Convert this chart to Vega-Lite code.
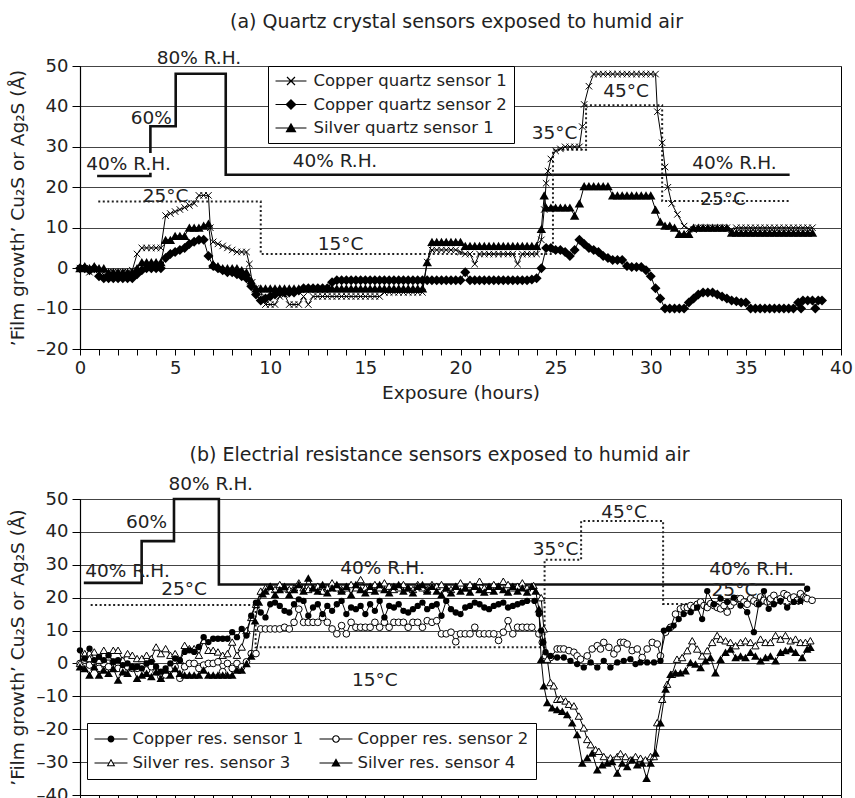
{
"$schema": "https://vega.github.io/schema/vega-lite/v6.json",
"padding": {"left": 7, "top": 12, "right": 0, "bottom": 0},
"background": "white",
"spacing": 43,
"config": {
  "font": "DejaVu Sans",
  "view": {"stroke": "black", "strokeWidth": 1},
  "axis": {"domainColor": "black", "domainWidth": 1.2, "tickColor": "black", "tickWidth": 1, "labelColor": "#222", "labelFontSize": 18, "titleColor": "#222", "titleFontSize": 18.5, "titleFontWeight": "normal", "gridColor": "#444", "gridWidth": 1},
  "title": {"fontSize": 19, "fontWeight": "normal", "color": "#222"}
},
"datasets": {
  "rhA": [{"h":0.9,"v":22.8,"g":1},{"h":3.7,"v":22.8,"g":1},{"h":3.7,"v":23.6,"g":1},{"h":3.7,"v":28.5,"g":2},{"h":3.7,"v":35.1,"g":2},{"h":5.03,"v":35.1,"g":2},{"h":5.03,"v":48.1,"g":2},{"h":7.66,"v":48.1,"g":2},{"h":7.66,"v":23.1,"g":2},{"h":37.3,"v":23.1,"g":2}],
  "tA": [{"h":0.96,"v":16.5},{"h":9.5,"v":16.5},{"h":9.5,"v":3.5},{"h":24.86,"v":3.5},{"h":24.86,"v":29.3},{"h":26.6,"v":29.3},{"h":26.6,"v":40.3},{"h":30.6,"v":40.3},{"h":30.6,"v":16.6},{"h":37.25,"v":16.6}],
  "txtA": [{"h":6.25,"v":50.5,"t":"80% R.H."},{"h":3.75,"v":35.7,"t":"60%"},{"h":2.55,"v":24.2,"t":"40% R.H."},{"h":13.4,"v":25,"t":"40% R.H."},{"h":34.4,"v":24.6,"t":"40% R.H."},{"h":4.5,"v":16.3,"t":"25°C"},{"h":13.7,"v":4.4,"t":"15°C"},{"h":24.95,"v":32,"t":"35°C"},{"h":28.7,"v":42.3,"t":"45°C"},{"h":33.8,"v":15.5,"t":"25°C"}],
  "legA": [{"k":"Copper quartz sensor 1"},{"k":"Copper quartz sensor 2"},{"k":"Silver quartz sensor 1"}],
  "q1": [{"h":0,"v":0},{"h":0.25,"v":0},{"h":0.5,"v":-1},{"h":0.75,"v":-0.5},{"h":1,"v":-1},{"h":1.25,"v":-1},{"h":1.5,"v":-1},{"h":1.75,"v":-1},{"h":2,"v":-1},{"h":2.25,"v":-1},{"h":2.5,"v":-1},{"h":2.75,"v":-0.5},{"h":3,"v":3.5},{"h":3.25,"v":5},{"h":3.5,"v":5},{"h":3.75,"v":5},{"h":4,"v":5},{"h":4.25,"v":5},{"h":4.5,"v":13},{"h":4.75,"v":13.5},{"h":5,"v":14},{"h":5.25,"v":14.5},{"h":5.5,"v":15},{"h":5.75,"v":15.5},{"h":6,"v":16},{"h":6.25,"v":18},{"h":6.5,"v":18},{"h":6.75,"v":18},{"h":6.85,"v":10},{"h":7,"v":6.5},{"h":7.25,"v":6},{"h":7.5,"v":5.5},{"h":7.75,"v":5},{"h":8,"v":4.5},{"h":8.25,"v":4},{"h":8.5,"v":4},{"h":8.75,"v":4},{"h":8.9,"v":1},{"h":9.05,"v":-3.5},{"h":9.25,"v":-5},{"h":9.5,"v":-6},{"h":9.75,"v":-9},{"h":10,"v":-9},{"h":10.25,"v":-9},{"h":10.5,"v":-7},{"h":10.75,"v":-6.5},{"h":11,"v":-9},{"h":11.25,"v":-9},{"h":11.5,"v":-9},{"h":11.75,"v":-7},{"h":12,"v":-9},{"h":12.25,"v":-7},{"h":12.5,"v":-7},{"h":12.75,"v":-7},{"h":13,"v":-7},{"h":13.25,"v":-7},{"h":13.5,"v":-7},{"h":13.75,"v":-7},{"h":14,"v":-7},{"h":14.25,"v":-7},{"h":14.5,"v":-7},{"h":14.75,"v":-7},{"h":15,"v":-7},{"h":15.25,"v":-7},{"h":15.5,"v":-7},{"h":15.75,"v":-7},{"h":16,"v":-6},{"h":16.25,"v":-6},{"h":16.5,"v":-6},{"h":16.75,"v":-6},{"h":17,"v":-6},{"h":17.25,"v":-6},{"h":17.5,"v":-6},{"h":17.75,"v":-6},{"h":18,"v":-6},{"h":18.25,"v":1.5},{"h":18.5,"v":4.5},{"h":18.75,"v":4.5},{"h":19,"v":4.5},{"h":19.25,"v":4.5},{"h":19.5,"v":4.5},{"h":19.75,"v":4.5},{"h":20,"v":4},{"h":20.25,"v":3.5},{"h":20.5,"v":3.5},{"h":20.75,"v":1},{"h":21,"v":3.5},{"h":21.25,"v":3.5},{"h":21.5,"v":3.5},{"h":21.75,"v":3.5},{"h":22,"v":3.5},{"h":22.25,"v":3.5},{"h":22.5,"v":3.5},{"h":22.75,"v":3.5},{"h":23,"v":1},{"h":23.25,"v":3.5},{"h":23.5,"v":3.5},{"h":23.75,"v":3.5},{"h":24,"v":3.5},{"h":24.25,"v":7},{"h":24.4,"v":14.5},{"h":24.5,"v":21},{"h":24.6,"v":24},{"h":24.75,"v":27},{"h":25,"v":29},{"h":25.25,"v":29.5},{"h":25.5,"v":30},{"h":25.75,"v":30},{"h":26,"v":30},{"h":26.25,"v":30},{"h":26.4,"v":35},{"h":26.5,"v":40.5},{"h":26.75,"v":45},{"h":27,"v":48},{"h":27.25,"v":48},{"h":27.5,"v":48},{"h":27.75,"v":48},{"h":28,"v":48},{"h":28.25,"v":48},{"h":28.5,"v":48},{"h":28.75,"v":48},{"h":29,"v":48},{"h":29.25,"v":48},{"h":29.5,"v":48},{"h":29.75,"v":48},{"h":30,"v":48},{"h":30.25,"v":48},{"h":30.35,"v":38.7},{"h":30.6,"v":31},{"h":30.75,"v":25},{"h":30.9,"v":20},{"h":31.1,"v":16},{"h":31.4,"v":13.3},{"h":31.75,"v":10.4},{"h":32,"v":9.6},{"h":32.25,"v":9.5},{"h":32.5,"v":10},{"h":32.75,"v":10},{"h":33,"v":10},{"h":33.25,"v":10},{"h":33.5,"v":10},{"h":33.75,"v":10},{"h":34,"v":10},{"h":34.25,"v":9.5},{"h":34.5,"v":10},{"h":34.75,"v":10},{"h":35,"v":10},{"h":35.25,"v":10},{"h":35.5,"v":10},{"h":35.75,"v":10},{"h":36,"v":10},{"h":36.25,"v":10},{"h":36.5,"v":10},{"h":36.75,"v":10},{"h":37,"v":10},{"h":37.25,"v":10},{"h":37.5,"v":10},{"h":37.75,"v":10},{"h":38,"v":10},{"h":38.25,"v":10},{"h":38.5,"v":10}],
  "q2": [{"h":0,"v":0},{"h":0.25,"v":0},{"h":0.5,"v":-0.5},{"h":0.75,"v":0},{"h":1,"v":-2},{"h":1.25,"v":-2.5},{"h":1.5,"v":-2.5},{"h":1.75,"v":-2.5},{"h":2,"v":-2.5},{"h":2.25,"v":-2.5},{"h":2.5,"v":-2.5},{"h":2.75,"v":-2.5},{"h":3,"v":-1.5},{"h":3.25,"v":-0.5},{"h":3.5,"v":0},{"h":3.75,"v":0},{"h":4,"v":0},{"h":4.25,"v":0},{"h":4.5,"v":2.5},{"h":4.75,"v":3.5},{"h":5,"v":4},{"h":5.25,"v":4.5},{"h":5.5,"v":5},{"h":5.75,"v":6},{"h":6,"v":6.5},{"h":6.25,"v":7},{"h":6.5,"v":7},{"h":6.75,"v":3},{"h":7,"v":0.5},{"h":7.25,"v":0},{"h":7.5,"v":-0.5},{"h":7.75,"v":-1},{"h":8,"v":-1},{"h":8.25,"v":-1.5},{"h":8.5,"v":-2},{"h":8.75,"v":-2.5},{"h":9,"v":-4.5},{"h":9.25,"v":-6.5},{"h":9.5,"v":-8},{"h":9.75,"v":-7.5},{"h":10,"v":-7},{"h":10.25,"v":-6.5},{"h":10.5,"v":-6},{"h":10.75,"v":-6},{"h":11,"v":-6},{"h":11.25,"v":-6},{"h":11.5,"v":-5.5},{"h":11.75,"v":-5},{"h":12,"v":-5},{"h":12.25,"v":-5},{"h":12.5,"v":-5},{"h":12.75,"v":-5},{"h":13,"v":-5},{"h":13.25,"v":-3.5},{"h":13.5,"v":-3},{"h":13.75,"v":-3},{"h":14,"v":-3},{"h":14.25,"v":-3},{"h":14.5,"v":-3},{"h":14.75,"v":-3},{"h":15,"v":-3},{"h":15.25,"v":-3},{"h":15.5,"v":-3},{"h":15.75,"v":-3},{"h":16,"v":-3},{"h":16.25,"v":-3},{"h":16.5,"v":-3},{"h":16.75,"v":-3},{"h":17,"v":-3},{"h":17.25,"v":-3},{"h":17.5,"v":-3},{"h":17.75,"v":-3},{"h":18,"v":-3},{"h":18.25,"v":-3},{"h":18.5,"v":-3},{"h":18.75,"v":-3},{"h":19,"v":-3},{"h":19.25,"v":-3},{"h":19.5,"v":-3},{"h":19.75,"v":-3},{"h":20,"v":-3},{"h":20.25,"v":-1},{"h":20.5,"v":-3},{"h":20.75,"v":-3},{"h":21,"v":-3},{"h":21.25,"v":-3},{"h":21.5,"v":-3},{"h":21.75,"v":-3},{"h":22,"v":-3},{"h":22.25,"v":-3},{"h":22.5,"v":-3},{"h":22.75,"v":-3},{"h":23,"v":-3},{"h":23.25,"v":-3},{"h":23.5,"v":-3},{"h":23.75,"v":-2.8},{"h":24,"v":-2.5},{"h":24.25,"v":0},{"h":24.5,"v":5},{"h":24.75,"v":5},{"h":25,"v":4.5},{"h":25.25,"v":4.5},{"h":25.5,"v":4},{"h":25.75,"v":3},{"h":26,"v":4.5},{"h":26.25,"v":7},{"h":26.5,"v":6},{"h":26.75,"v":5},{"h":27,"v":4.5},{"h":27.25,"v":4},{"h":27.5,"v":3},{"h":27.75,"v":2.5},{"h":28,"v":2},{"h":28.25,"v":2},{"h":28.5,"v":2},{"h":28.75,"v":0.5},{"h":29,"v":0.3},{"h":29.25,"v":0.3},{"h":29.5,"v":0.3},{"h":29.75,"v":-0.5},{"h":30,"v":-2},{"h":30.25,"v":-5},{"h":30.5,"v":-7.5},{"h":30.75,"v":-10},{"h":31,"v":-10},{"h":31.25,"v":-10},{"h":31.5,"v":-10},{"h":31.75,"v":-10},{"h":32,"v":-8.5},{"h":32.25,"v":-7.5},{"h":32.5,"v":-6.5},{"h":32.75,"v":-6},{"h":33,"v":-6},{"h":33.25,"v":-6},{"h":33.5,"v":-6.5},{"h":33.75,"v":-7},{"h":34,"v":-7.5},{"h":34.25,"v":-8},{"h":34.5,"v":-8.2},{"h":34.75,"v":-8.5},{"h":35,"v":-8.5},{"h":35.25,"v":-10},{"h":35.5,"v":-10},{"h":35.75,"v":-10},{"h":36,"v":-10},{"h":36.25,"v":-10},{"h":36.5,"v":-10},{"h":36.75,"v":-10},{"h":37,"v":-10},{"h":37.25,"v":-10},{"h":37.5,"v":-10},{"h":37.75,"v":-8.5},{"h":37.9,"v":-10},{"h":38,"v":-8},{"h":38.25,"v":-8},{"h":38.5,"v":-8},{"h":38.65,"v":-10},{"h":38.8,"v":-8},{"h":39,"v":-8}],
  "q3": [{"h":0,"v":0},{"h":0.25,"v":0.5},{"h":0.5,"v":0},{"h":0.75,"v":0.5},{"h":1,"v":0},{"h":1.25,"v":0},{"h":1.5,"v":-1},{"h":1.75,"v":-1},{"h":2,"v":-1},{"h":2.25,"v":-1},{"h":2.5,"v":-1},{"h":2.75,"v":-1},{"h":3,"v":0},{"h":3.25,"v":1.5},{"h":3.5,"v":1.5},{"h":3.75,"v":1.5},{"h":4,"v":1.5},{"h":4.25,"v":1.5},{"h":4.5,"v":7},{"h":4.75,"v":7},{"h":5,"v":8},{"h":5.25,"v":8},{"h":5.5,"v":8},{"h":5.75,"v":10},{"h":6,"v":10},{"h":6.25,"v":10},{"h":6.5,"v":10.5},{"h":6.75,"v":11},{"h":7,"v":1},{"h":7.25,"v":0.5},{"h":7.5,"v":0},{"h":7.75,"v":0},{"h":8,"v":0},{"h":8.25,"v":0},{"h":8.5,"v":-0.5},{"h":8.75,"v":-1},{"h":9,"v":-3},{"h":9.25,"v":-5},{"h":9.5,"v":-5},{"h":9.75,"v":-5},{"h":10,"v":-5},{"h":10.25,"v":-5},{"h":10.5,"v":-5},{"h":10.75,"v":-5},{"h":11,"v":-5},{"h":11.25,"v":-5},{"h":11.5,"v":-5},{"h":11.75,"v":-5},{"h":12,"v":-5},{"h":12.25,"v":-5},{"h":12.5,"v":-5},{"h":12.75,"v":-5},{"h":13,"v":-5},{"h":13.25,"v":-5},{"h":13.5,"v":-5},{"h":13.75,"v":-5},{"h":14,"v":-5},{"h":14.25,"v":-5},{"h":14.5,"v":-5},{"h":14.75,"v":-5},{"h":15,"v":-5},{"h":15.25,"v":-5},{"h":15.5,"v":-5},{"h":15.75,"v":-5},{"h":16,"v":-5},{"h":16.25,"v":-5},{"h":16.5,"v":-5},{"h":16.75,"v":-5},{"h":17,"v":-5},{"h":17.25,"v":-5},{"h":17.5,"v":-5},{"h":17.75,"v":-5},{"h":18,"v":-5},{"h":18.25,"v":1.5},{"h":18.5,"v":6.5},{"h":18.75,"v":6.5},{"h":19,"v":6.5},{"h":19.25,"v":6.5},{"h":19.5,"v":6.5},{"h":19.75,"v":6.5},{"h":20,"v":6.5},{"h":20.25,"v":5.5},{"h":20.5,"v":5.5},{"h":20.75,"v":5.5},{"h":21,"v":5.5},{"h":21.25,"v":5.5},{"h":21.5,"v":5.5},{"h":21.75,"v":5.5},{"h":22,"v":5.5},{"h":22.25,"v":5.5},{"h":22.5,"v":5.5},{"h":22.75,"v":5.5},{"h":23,"v":5.5},{"h":23.25,"v":5.5},{"h":23.5,"v":5.5},{"h":23.75,"v":5.5},{"h":24,"v":5.5},{"h":24.25,"v":9.7},{"h":24.4,"v":18},{"h":24.5,"v":15},{"h":24.75,"v":15},{"h":25,"v":15},{"h":25.25,"v":15},{"h":25.5,"v":15},{"h":25.75,"v":15},{"h":26,"v":13},{"h":26.25,"v":16},{"h":26.5,"v":20.3},{"h":26.75,"v":20.3},{"h":27,"v":20.3},{"h":27.25,"v":20.3},{"h":27.5,"v":20.3},{"h":27.75,"v":20.3},{"h":28,"v":18},{"h":28.25,"v":18},{"h":28.5,"v":18},{"h":28.75,"v":18},{"h":29,"v":18},{"h":29.25,"v":18},{"h":29.5,"v":18},{"h":29.75,"v":18},{"h":30,"v":18},{"h":30.25,"v":14.5},{"h":30.5,"v":11.5},{"h":30.75,"v":10.5},{"h":31,"v":10.5},{"h":31.25,"v":10},{"h":31.5,"v":8.5},{"h":31.75,"v":8.5},{"h":32,"v":8.5},{"h":32.25,"v":10},{"h":32.5,"v":10},{"h":32.75,"v":10},{"h":33,"v":10},{"h":33.25,"v":10},{"h":33.5,"v":10},{"h":33.75,"v":10},{"h":34,"v":10},{"h":34.25,"v":8.8},{"h":34.5,"v":8.8},{"h":34.75,"v":8.8},{"h":35,"v":8.8},{"h":35.25,"v":8.8},{"h":35.5,"v":8.8},{"h":35.75,"v":8.8},{"h":36,"v":8.8},{"h":36.25,"v":8.8},{"h":36.5,"v":8.8},{"h":36.75,"v":8.8},{"h":37,"v":8.8},{"h":37.25,"v":8.8},{"h":37.5,"v":8.8},{"h":37.75,"v":8.8},{"h":38,"v":8.8},{"h":38.25,"v":8.8},{"h":38.5,"v":8.8}],
  "rhB": [{"h":0.2,"v":24.5},{"h":3.24,"v":24.5},{"h":3.24,"v":37.2},{"h":4.94,"v":37.2},{"h":4.94,"v":50},{"h":7.3,"v":50},{"h":7.3,"v":24},{"h":38.1,"v":24}],
  "tB": [{"h":0.56,"v":17.8},{"h":9.23,"v":17.8},{"h":9.23,"v":4.9},{"h":24.42,"v":4.9},{"h":24.42,"v":31.5},{"h":26.34,"v":31.5},{"h":26.34,"v":43.3},{"h":30.65,"v":43.3},{"h":30.65,"v":18.1},{"h":38,"v":18.1}],
  "txtB": [{"h":6.87,"v":52.8,"t":"80% R.H."},{"h":3.5,"v":41.3,"t":"60%"},{"h":2.5,"v":26.3,"t":"40% R.H."},{"h":15.9,"v":27.3,"t":"40% R.H."},{"h":35.3,"v":26.8,"t":"40% R.H."},{"h":5.47,"v":20.9,"t":"25°C"},{"h":15.5,"v":-6.8,"t":"15°C"},{"h":25,"v":33.1,"t":"35°C"},{"h":28.6,"v":44.3,"t":"45°C"},{"h":34.4,"v":20.5,"t":"25°C"}],
  "legB": [{"k":"Copper res. sensor 1"},{"k":"Copper res. sensor 2"},{"k":"Silver res. sensor 3"},{"k":"Silver res. sensor 4"}],
  "r1": [{"h":0,"v":4},{"h":0.25,"v":1.5},{"h":0.5,"v":4.5},{"h":0.75,"v":1},{"h":1,"v":2},{"h":1.25,"v":1},{"h":1.5,"v":2.5},{"h":1.75,"v":0.5},{"h":2,"v":1},{"h":2.25,"v":-0.5},{"h":2.5,"v":0},{"h":2.75,"v":-1},{"h":3,"v":-1},{"h":3.25,"v":-1.5},{"h":3.5,"v":0},{"h":3.75,"v":0.5},{"h":4,"v":-1},{"h":4.25,"v":-2.5},{"h":4.5,"v":-1.5},{"h":4.75,"v":0},{"h":5,"v":1.5},{"h":5.25,"v":1},{"h":5.5,"v":3.5},{"h":5.75,"v":4},{"h":6,"v":3.5},{"h":6.25,"v":5},{"h":6.5,"v":8},{"h":6.75,"v":6.5},{"h":7,"v":7.5},{"h":7.25,"v":7.5},{"h":7.5,"v":7.5},{"h":7.75,"v":7.5},{"h":8,"v":9.5},{"h":8.25,"v":8},{"h":8.5,"v":10.5},{"h":8.75,"v":8.5},{"h":9,"v":14.5},{"h":9.25,"v":18.5},{"h":9.5,"v":15.5},{"h":9.75,"v":14},{"h":10,"v":18},{"h":10.25,"v":18.5},{"h":10.5,"v":17.5},{"h":10.75,"v":16},{"h":11,"v":15.5},{"h":11.25,"v":18},{"h":11.5,"v":19.5},{"h":11.75,"v":19},{"h":12,"v":14.5},{"h":12.25,"v":17},{"h":12.5,"v":18},{"h":12.75,"v":15},{"h":13,"v":17.5},{"h":13.25,"v":16},{"h":13.5,"v":18},{"h":13.75,"v":19},{"h":14,"v":15},{"h":14.25,"v":17},{"h":14.5,"v":16.5},{"h":14.75,"v":17.5},{"h":15,"v":15},{"h":15.25,"v":18},{"h":15.5,"v":16},{"h":15.75,"v":19},{"h":16,"v":14},{"h":16.25,"v":17.5},{"h":16.5,"v":17},{"h":16.75,"v":18},{"h":17,"v":16},{"h":17.25,"v":15.5},{"h":17.5,"v":16.5},{"h":17.75,"v":17.5},{"h":18,"v":18.5},{"h":18.25,"v":16.5},{"h":18.5,"v":17.5},{"h":18.75,"v":18},{"h":19,"v":14.5},{"h":19.25,"v":19},{"h":19.5,"v":16.5},{"h":19.75,"v":15.5},{"h":20,"v":15},{"h":20.25,"v":17},{"h":20.5,"v":17.5},{"h":20.75,"v":18.5},{"h":21,"v":18},{"h":21.25,"v":17},{"h":21.5,"v":16.5},{"h":21.75,"v":17.5},{"h":22,"v":18},{"h":22.25,"v":18.5},{"h":22.5,"v":17},{"h":22.75,"v":17.5},{"h":23,"v":18},{"h":23.25,"v":18.5},{"h":23.5,"v":19},{"h":23.89,"v":19},{"h":24.12,"v":15},{"h":24.24,"v":10},{"h":24.35,"v":6.4},{"h":24.47,"v":3.4},{"h":24.73,"v":2.3},{"h":25.08,"v":1.8},{"h":25.43,"v":1.8},{"h":25.78,"v":0.8},{"h":26.13,"v":-0.2},{"h":26.48,"v":-1.2},{"h":26.84,"v":0.3},{"h":27.19,"v":-1.2},{"h":27.53,"v":0.8},{"h":27.88,"v":-1.2},{"h":28.24,"v":0.3},{"h":28.58,"v":0.8},{"h":28.93,"v":1.3},{"h":29.2,"v":-0.2},{"h":29.46,"v":0.3},{"h":29.81,"v":0.3},{"h":30.17,"v":0.3},{"h":30.51,"v":0.8},{"h":30.69,"v":10},{"h":30.95,"v":10.5},{"h":31.2,"v":11.5},{"h":31.47,"v":13.5},{"h":31.73,"v":15},{"h":32.1,"v":15.6},{"h":32.44,"v":17},{"h":32.7,"v":13.5},{"h":32.97,"v":22},{"h":33.32,"v":18},{"h":33.67,"v":19.7},{"h":34.02,"v":18.7},{"h":34.37,"v":20},{"h":34.72,"v":17.6},{"h":35.07,"v":15.6},{"h":35.42,"v":9.5},{"h":35.68,"v":18},{"h":35.95,"v":22},{"h":36.2,"v":16.6},{"h":36.47,"v":18},{"h":36.82,"v":19},{"h":37.17,"v":17},{"h":37.52,"v":18.7},{"h":37.87,"v":19},{"h":38.22,"v":22.7}],
  "r2": [{"h":0,"v":0},{"h":0.25,"v":1},{"h":0.5,"v":-0.5},{"h":0.75,"v":0.5},{"h":1,"v":-1.5},{"h":1.25,"v":0},{"h":1.5,"v":-1},{"h":1.75,"v":0.5},{"h":2,"v":-1.5},{"h":2.25,"v":-2},{"h":2.5,"v":-1},{"h":2.75,"v":-1.5},{"h":3,"v":-1.5},{"h":3.25,"v":-1},{"h":3.5,"v":-2},{"h":3.75,"v":-1},{"h":4,"v":-2.5},{"h":4.25,"v":-4},{"h":4.5,"v":-3.5},{"h":4.75,"v":-1.5},{"h":5,"v":-1},{"h":5.25,"v":-4.5},{"h":5.5,"v":-1},{"h":5.75,"v":0},{"h":6,"v":0},{"h":6.25,"v":-1.5},{"h":6.5,"v":-0.5},{"h":6.75,"v":0},{"h":7,"v":0},{"h":7.25,"v":0.5},{"h":7.5,"v":-2.5},{"h":7.75,"v":0},{"h":8,"v":-1.5},{"h":8.25,"v":0},{"h":8.5,"v":-1},{"h":8.75,"v":0.5},{"h":9,"v":3},{"h":9.25,"v":3},{"h":9.5,"v":10.5},{"h":9.75,"v":10.5},{"h":10,"v":10.5},{"h":10.25,"v":10.5},{"h":10.5,"v":10.5},{"h":10.75,"v":11},{"h":11,"v":10.5},{"h":11.25,"v":12.5},{"h":11.5,"v":16.5},{"h":11.75,"v":12.5},{"h":12,"v":12.5},{"h":12.25,"v":12.5},{"h":12.5,"v":12.5},{"h":12.75,"v":14},{"h":13,"v":12.5},{"h":13.25,"v":10.5},{"h":13.5,"v":9},{"h":13.75,"v":11.5},{"h":14,"v":9},{"h":14.25,"v":12.5},{"h":14.5,"v":11},{"h":14.75,"v":11},{"h":15,"v":11},{"h":15.25,"v":11},{"h":15.5,"v":12.5},{"h":15.75,"v":11},{"h":16,"v":12.5},{"h":16.25,"v":11},{"h":16.5,"v":12.5},{"h":16.75,"v":12.5},{"h":17,"v":12.5},{"h":17.25,"v":11},{"h":17.5,"v":12.5},{"h":17.75,"v":12.5},{"h":18,"v":11},{"h":18.25,"v":13},{"h":18.5,"v":12.5},{"h":18.75,"v":13},{"h":19,"v":9},{"h":19.25,"v":9},{"h":19.5,"v":9.5},{"h":19.75,"v":6.6},{"h":20,"v":9},{"h":20.25,"v":9},{"h":20.5,"v":9},{"h":20.75,"v":11},{"h":21,"v":9},{"h":21.25,"v":9},{"h":21.5,"v":9},{"h":21.75,"v":9},{"h":22,"v":7},{"h":22.25,"v":9.5},{"h":22.5,"v":13},{"h":22.75,"v":9},{"h":23,"v":11},{"h":23.25,"v":11},{"h":23.5,"v":11},{"h":23.75,"v":11},{"h":24.12,"v":9},{"h":24.3,"v":6.4},{"h":24.47,"v":2.3},{"h":24.73,"v":1.8},{"h":25.08,"v":4.4},{"h":25.25,"v":4.4},{"h":25.43,"v":4.4},{"h":25.7,"v":3.9},{"h":25.96,"v":3.4},{"h":26.13,"v":2.3},{"h":26.31,"v":1.3},{"h":26.66,"v":2.3},{"h":26.92,"v":4.4},{"h":27.19,"v":5.4},{"h":27.36,"v":4.4},{"h":27.53,"v":6.4},{"h":27.8,"v":4.9},{"h":28.06,"v":2.9},{"h":28.24,"v":4.4},{"h":28.41,"v":6.4},{"h":28.58,"v":6.4},{"h":28.76,"v":5.9},{"h":29.02,"v":3.9},{"h":29.29,"v":4.4},{"h":29.55,"v":1.8},{"h":29.81,"v":4.4},{"h":30.08,"v":6.4},{"h":30.34,"v":5.9},{"h":30.51,"v":2.3},{"h":30.78,"v":9.5},{"h":31.04,"v":11},{"h":31.3,"v":15},{"h":31.56,"v":16.6},{"h":31.75,"v":17},{"h":31.92,"v":17},{"h":32.1,"v":17.6},{"h":32.27,"v":17},{"h":32.45,"v":18},{"h":32.62,"v":18.7},{"h":32.8,"v":17.6},{"h":32.97,"v":17},{"h":33.15,"v":18.2},{"h":33.32,"v":17.6},{"h":33.5,"v":17},{"h":33.67,"v":16.6},{"h":33.85,"v":17.6},{"h":34.02,"v":15.6},{"h":34.2,"v":17.6},{"h":34.37,"v":18.7},{"h":34.55,"v":19.7},{"h":34.72,"v":19.7},{"h":34.9,"v":18.7},{"h":35.07,"v":18},{"h":35.25,"v":19.7},{"h":35.42,"v":19},{"h":35.6,"v":18.2},{"h":35.77,"v":20.2},{"h":35.95,"v":19.2},{"h":36.12,"v":18.7},{"h":36.3,"v":19.7},{"h":36.47,"v":20.7},{"h":36.65,"v":19.2},{"h":36.82,"v":19.7},{"h":37,"v":21.2},{"h":37.17,"v":20.7},{"h":37.35,"v":19.7},{"h":37.52,"v":20.2},{"h":37.7,"v":19.2},{"h":37.87,"v":21.2},{"h":38.05,"v":20.2},{"h":38.22,"v":19.7},{"h":38.48,"v":19.2}],
  "r3": [{"h":0,"v":0},{"h":0.25,"v":3},{"h":0.5,"v":1.5},{"h":0.75,"v":3.5},{"h":1,"v":1},{"h":1.25,"v":4},{"h":1.5,"v":2},{"h":1.75,"v":4},{"h":2,"v":4},{"h":2.25,"v":1},{"h":2.5,"v":3},{"h":2.75,"v":2.5},{"h":3,"v":1.5},{"h":3.25,"v":1.5},{"h":3.5,"v":2.5},{"h":3.75,"v":1.5},{"h":4,"v":5},{"h":4.25,"v":3},{"h":4.5,"v":4.5},{"h":4.75,"v":2.5},{"h":5,"v":3},{"h":5.25,"v":1},{"h":5.5,"v":5.5},{"h":5.75,"v":4.5},{"h":6,"v":4.5},{"h":6.25,"v":2.5},{"h":6.5,"v":7},{"h":6.75,"v":4},{"h":7,"v":4},{"h":7.25,"v":3.5},{"h":7.5,"v":2.5},{"h":7.75,"v":3},{"h":8,"v":6.5},{"h":8.25,"v":2.5},{"h":8.5,"v":5},{"h":8.75,"v":10},{"h":9,"v":14},{"h":9.25,"v":18},{"h":9.5,"v":22},{"h":9.75,"v":23},{"h":10,"v":23.5},{"h":10.25,"v":22.5},{"h":10.5,"v":24},{"h":10.75,"v":23},{"h":11,"v":22.5},{"h":11.25,"v":23},{"h":11.5,"v":24.5},{"h":11.75,"v":23},{"h":12,"v":22.5},{"h":12.25,"v":23},{"h":12.5,"v":23.5},{"h":12.75,"v":22},{"h":13,"v":23},{"h":13.25,"v":24.5},{"h":13.5,"v":23},{"h":13.75,"v":22.5},{"h":14,"v":23},{"h":14.25,"v":24},{"h":14.5,"v":23},{"h":14.75,"v":25.5},{"h":15,"v":23},{"h":15.25,"v":22.5},{"h":15.5,"v":24},{"h":15.75,"v":23},{"h":16,"v":24.5},{"h":16.25,"v":23.5},{"h":16.5,"v":22.5},{"h":16.75,"v":23},{"h":17,"v":24},{"h":17.25,"v":23},{"h":17.5,"v":22.5},{"h":17.75,"v":24},{"h":18,"v":23},{"h":18.25,"v":22.5},{"h":18.5,"v":24},{"h":18.75,"v":23.5},{"h":19,"v":24},{"h":19.25,"v":23},{"h":19.5,"v":22.5},{"h":19.75,"v":23.5},{"h":20,"v":24.5},{"h":20.25,"v":23},{"h":20.5,"v":24},{"h":20.75,"v":23.5},{"h":21,"v":25},{"h":21.25,"v":23},{"h":21.5,"v":22.5},{"h":21.75,"v":24},{"h":22,"v":23.5},{"h":22.25,"v":25},{"h":22.5,"v":24},{"h":22.75,"v":23},{"h":23,"v":23.5},{"h":23.25,"v":24.5},{"h":23.5,"v":23},{"h":23.84,"v":23.7},{"h":24.24,"v":20},{"h":24.38,"v":10.5},{"h":24.56,"v":1.3},{"h":24.73,"v":-5.8},{"h":24.9,"v":-6.8},{"h":25.08,"v":-10.9},{"h":25.26,"v":-10.7},{"h":25.52,"v":-11.4},{"h":25.7,"v":-12.4},{"h":25.96,"v":-12.9},{"h":26.22,"v":-16},{"h":26.48,"v":-19.6},{"h":26.66,"v":-23.1},{"h":26.84,"v":-24.7},{"h":27.1,"v":-26.2},{"h":27.27,"v":-26.7},{"h":27.53,"v":-28.3},{"h":27.88,"v":-28.7},{"h":28.24,"v":-28.3},{"h":28.41,"v":-27.4},{"h":28.67,"v":-28.3},{"h":28.93,"v":-29.3},{"h":29.2,"v":-28.3},{"h":29.46,"v":-28.8},{"h":29.72,"v":-29.3},{"h":29.99,"v":-28.3},{"h":30.16,"v":-28.3},{"h":30.34,"v":-18},{"h":30.6,"v":-10.9},{"h":30.86,"v":-6.3},{"h":31.12,"v":-3.3},{"h":31.38,"v":1.3},{"h":31.65,"v":1.8},{"h":31.92,"v":3.9},{"h":32.18,"v":6.9},{"h":32.44,"v":4.4},{"h":32.7,"v":2.3},{"h":32.97,"v":3.9},{"h":33.23,"v":6.4},{"h":33.49,"v":8.5},{"h":33.67,"v":7.4},{"h":33.93,"v":6.9},{"h":34.19,"v":6.4},{"h":34.46,"v":5.4},{"h":34.72,"v":6.4},{"h":34.98,"v":6.9},{"h":35.24,"v":6.4},{"h":35.5,"v":5.4},{"h":35.77,"v":7.4},{"h":36.03,"v":6.4},{"h":36.29,"v":6.4},{"h":36.56,"v":8.5},{"h":36.82,"v":7.4},{"h":37.08,"v":8.5},{"h":37.35,"v":6.9},{"h":37.61,"v":7.4},{"h":37.87,"v":6.4},{"h":38.13,"v":6.4},{"h":38.39,"v":6.9}],
  "r4": [{"h":0,"v":-1},{"h":0.25,"v":-1.5},{"h":0.5,"v":-3.5},{"h":0.75,"v":-1},{"h":1,"v":-3.5},{"h":1.25,"v":-2},{"h":1.5,"v":-3},{"h":1.75,"v":-1.5},{"h":2,"v":-5},{"h":2.25,"v":-2.5},{"h":2.5,"v":-3},{"h":2.75,"v":-1},{"h":3,"v":-4.5},{"h":3.25,"v":-3.5},{"h":3.5,"v":-3},{"h":3.75,"v":-4},{"h":4,"v":-2.5},{"h":4.25,"v":-4.5},{"h":4.5,"v":-2},{"h":4.75,"v":-3.5},{"h":5,"v":-1.5},{"h":5.25,"v":-3},{"h":5.5,"v":-3.5},{"h":5.75,"v":-3.5},{"h":6,"v":-3.5},{"h":6.25,"v":-3.5},{"h":6.5,"v":-2},{"h":6.75,"v":-3.5},{"h":7,"v":-3.5},{"h":7.25,"v":-3.5},{"h":7.5,"v":-3.5},{"h":7.75,"v":-3.5},{"h":8,"v":-3.5},{"h":8.25,"v":-2},{"h":8.5,"v":-2},{"h":8.75,"v":0},{"h":9,"v":2.3},{"h":9.2,"v":13},{"h":9.4,"v":18.7},{"h":9.6,"v":21.2},{"h":9.75,"v":22},{"h":10,"v":23.5},{"h":10.25,"v":21},{"h":10.5,"v":22.5},{"h":10.75,"v":23.5},{"h":11,"v":21},{"h":11.25,"v":22.5},{"h":11.5,"v":24},{"h":11.75,"v":22},{"h":12,"v":26},{"h":12.25,"v":23},{"h":12.5,"v":22},{"h":12.75,"v":24},{"h":13,"v":21.5},{"h":13.25,"v":23},{"h":13.5,"v":24},{"h":13.75,"v":22},{"h":14,"v":23.5},{"h":14.25,"v":21},{"h":14.5,"v":24},{"h":14.75,"v":22.5},{"h":15,"v":21.5},{"h":15.25,"v":23.5},{"h":15.5,"v":22},{"h":15.75,"v":24},{"h":16,"v":22.5},{"h":16.25,"v":21.5},{"h":16.5,"v":23.5},{"h":16.75,"v":24},{"h":17,"v":22},{"h":17.25,"v":23},{"h":17.5,"v":21.5},{"h":17.75,"v":23.5},{"h":18,"v":24},{"h":18.25,"v":22},{"h":18.5,"v":23.5},{"h":18.75,"v":22},{"h":19,"v":21},{"h":19.25,"v":23},{"h":19.5,"v":21.5},{"h":19.75,"v":23.5},{"h":20,"v":22},{"h":20.25,"v":23},{"h":20.5,"v":21.7},{"h":20.75,"v":23.5},{"h":21,"v":22.5},{"h":21.25,"v":21.7},{"h":21.5,"v":23.5},{"h":21.75,"v":22},{"h":22,"v":23.5},{"h":22.25,"v":22.5},{"h":22.5,"v":21.7},{"h":22.75,"v":23.5},{"h":23,"v":22},{"h":23.25,"v":23},{"h":23.5,"v":21.7},{"h":23.75,"v":23.5},{"h":23.95,"v":22},{"h":24.12,"v":16.6},{"h":24.24,"v":1.3},{"h":24.38,"v":-6.8},{"h":24.56,"v":-11.9},{"h":24.82,"v":-13.5},{"h":25.08,"v":-14},{"h":25.35,"v":-14.5},{"h":25.61,"v":-15.5},{"h":25.87,"v":-18},{"h":26.13,"v":-21.6},{"h":26.4,"v":-30.3},{"h":26.66,"v":-28.7},{"h":26.92,"v":-27.2},{"h":27.19,"v":-32.3},{"h":27.45,"v":-30.8},{"h":27.71,"v":-30.3},{"h":27.97,"v":-29.8},{"h":28.24,"v":-33.3},{"h":28.5,"v":-30.3},{"h":28.76,"v":-31.3},{"h":29.02,"v":-29.3},{"h":29.29,"v":-30.8},{"h":29.55,"v":-30.3},{"h":29.78,"v":-34.9},{"h":29.99,"v":-30.3},{"h":30.25,"v":-27.2},{"h":30.51,"v":-18},{"h":30.78,"v":-7.8},{"h":31.04,"v":-3.3},{"h":31.3,"v":-2.8},{"h":31.56,"v":-2.8},{"h":31.83,"v":-2.2},{"h":32.09,"v":0.3},{"h":32.35,"v":-0.2},{"h":32.62,"v":-1.2},{"h":32.88,"v":0.8},{"h":33.14,"v":1.8},{"h":33.4,"v":-2.8},{"h":33.67,"v":1.3},{"h":33.93,"v":3.4},{"h":34.19,"v":4.4},{"h":34.46,"v":1.8},{"h":34.72,"v":2.3},{"h":34.98,"v":1.8},{"h":35.24,"v":3.4},{"h":35.5,"v":2.3},{"h":35.77,"v":0.8},{"h":36.03,"v":1.8},{"h":36.29,"v":2.3},{"h":36.56,"v":0.8},{"h":36.82,"v":3.4},{"h":37.08,"v":3.9},{"h":37.35,"v":4.4},{"h":37.61,"v":3.4},{"h":37.96,"v":1.8},{"h":38.22,"v":4.4},{"h":38.39,"v":4.9}]
},
"resolve": {"scale": {"shape": "independent"}},
"vconcat": [
{
  "title": {"text": "(a) Quartz crystal sensors exposed to humid air", "frame": "group", "anchor": "middle", "dx": -4, "offset": 17},
  "width": 761, "height": 283,
  "encoding": {
    "x": {"field": "h", "type": "quantitative", "scale": {"domain": [0, 40], "nice": false, "zero": false},
      "axis": {"values": [0,1,2,3,4,5,6,7,8,9,10,11,12,13,14,15,16,17,18,19,20,21,22,23,24,25,26,27,28,29,30,31,32,33,34,35,36,37,38,39,40], "labelExpr": "datum.value % 5 === 0 ? datum.label : ''", "labelOverlap": false, "labelFlush": false, "title": "Exposure (hours)", "grid": false, "tickSize": 6, "labelPadding": 4, "titlePadding": 6}},
    "y": {"field": "v", "type": "quantitative", "scale": {"domain": [-20, 50], "nice": false, "zero": false},
      "axis": {"values": [-20,-10,0,10,20,30,40,50], "labelExpr": "replace(datum.label, '−', '–')", "title": "’Film growth’ Cu₂S or Ag₂S (Å)", "grid": true, "tickSize": 8, "labelPadding": 4, "titlePadding": 9}}
  },
  "layer": [
    {"data": {"name": "rhA"}, "mark": {"type": "line", "color": "#111", "strokeWidth": 2.6}, "encoding": {"detail": {"field": "g"}, "order": {"value": null}}},
    {"data": {"name": "tA"}, "mark": {"type": "line", "color": "#222", "strokeWidth": 2, "strokeDash": [2, 2.5]}, "encoding": {"order": {"value": null}}},
    {"data": {"name": "txtA"}, "mark": {"type": "text", "fontSize": 18.5, "color": "#222", "baseline": "alphabetic", "align": "center"}, "encoding": {"text": {"field": "t"}}},
    {"data": {"name": "q1"}, "layer": [
      {"mark": {"type": "line", "color": "black", "strokeWidth": 1}, "encoding": {"order": {"value": null}}},
      {"mark": {"type": "point", "shape": "M-1,-1L1,1M-1,1L1,-1", "size": 42, "filled": false, "color": "black", "strokeWidth": 1, "opacity": 1}}
    ]},
    {"data": {"name": "q2"}, "layer": [
      {"mark": {"type": "line", "color": "black", "strokeWidth": 1}, "encoding": {"order": {"value": null}}},
      {"mark": {"type": "point", "shape": "diamond", "size": 100, "filled": true, "color": "black", "opacity": 1}}
    ]},
    {"data": {"name": "q3"}, "layer": [
      {"mark": {"type": "line", "color": "black", "strokeWidth": 1}, "encoding": {"order": {"value": null}}},
      {"mark": {"type": "point", "shape": "triangle-up", "size": 90, "filled": true, "color": "black", "opacity": 1}}
    ]},
    {"data": {"name": "legA"}, "mark": {"type": "point", "filled": true, "color": "black", "opacity": 0},
     "encoding": {"shape": {"field": "k", "type": "nominal",
       "scale": {"domain": ["Copper quartz sensor 1", "Copper quartz sensor 2", "Silver quartz sensor 1"],
                 "range": ["M-0.88,-0.06H2.76V0.06H-0.88ZM0.52,-0.52L1.46,0.42L1.36,0.52L0.42,-0.42ZM1.46,-0.42L0.52,0.52L0.42,0.42L1.36,-0.52Z",
                           "M-0.88,-0.06H2.76V0.06H-0.88ZM0.94,-0.65L1.59,0L0.94,0.65L0.29,0Z",
                           "M-0.88,-0.06H2.76V0.06H-0.88ZM0.94,-0.62L1.59,0.5L0.29,0.5Z"]},
       "legend": {"title": null, "orient": "none", "legendX": 188, "legendY": 0, "direction": "vertical", "symbolSize": 289, "symbolStrokeWidth": 0, "symbolOpacity": 1, "symbolFillColor": "black", "labelFontSize": 16.5, "labelColor": "#222", "labelOffset": 22, "labelLimit": 400, "rowPadding": 6.5, "padding": 6.5, "strokeColor": "black", "fillColor": "white"}}}}
  ]
},
{
  "title": {"text": "(b) Electrial resistance sensors exposed to humid air", "frame": "group", "anchor": "middle", "dx": -21, "offset": 10},
  "width": 761, "height": 296,
  "encoding": {
    "x": {"field": "h", "type": "quantitative", "scale": {"domain": [0, 40], "nice": false, "zero": false},
      "axis": {"values": [0,1,2,3,4,5,6,7,8,9,10,11,12,13,14,15,16,17,18,19,20,21,22,23,24,25,26,27,28,29,30,31,32,33,34,35,36,37,38,39,40], "labelExpr": "datum.value % 5 === 0 ? datum.label : ''", "labelOverlap": false, "labelFlush": false, "title": "Exposure (hours)", "grid": false, "tickSize": 6, "labelPadding": 4, "titlePadding": 6}},
    "y": {"field": "v", "type": "quantitative", "scale": {"domain": [-40, 50], "nice": false, "zero": false},
      "axis": {"values": [-40,-30,-20,-10,0,10,20,30,40,50], "labelExpr": "replace(datum.label, '−', '–')", "title": "’Film growth’ Cu₂S or Ag₂S (Å)", "grid": true, "tickSize": 8, "labelPadding": 4, "titlePadding": 9}}
  },
  "layer": [
    {"data": {"name": "rhB"}, "mark": {"type": "line", "color": "#111", "strokeWidth": 2.6}, "encoding": {"order": {"value": null}}},
    {"data": {"name": "tB"}, "mark": {"type": "line", "color": "#222", "strokeWidth": 2, "strokeDash": [2, 2.5]}, "encoding": {"order": {"value": null}}},
    {"data": {"name": "txtB"}, "mark": {"type": "text", "fontSize": 18.5, "color": "#222", "baseline": "alphabetic", "align": "center"}, "encoding": {"text": {"field": "t"}}},
    {"data": {"name": "r2"}, "layer": [
      {"mark": {"type": "line", "color": "black", "strokeWidth": 1}, "encoding": {"order": {"value": null}}},
      {"mark": {"type": "point", "shape": "circle", "size": 45, "fill": "white", "stroke": "black", "strokeWidth": 1, "opacity": 1}}
    ]},
    {"data": {"name": "r3"}, "layer": [
      {"mark": {"type": "line", "color": "black", "strokeWidth": 1}, "encoding": {"order": {"value": null}}},
      {"mark": {"type": "point", "shape": "triangle-up", "size": 55, "fill": "white", "stroke": "black", "strokeWidth": 1, "opacity": 1}}
    ]},
    {"data": {"name": "r1"}, "layer": [
      {"mark": {"type": "line", "color": "black", "strokeWidth": 1}, "encoding": {"order": {"value": null}}},
      {"mark": {"type": "point", "shape": "circle", "size": 40, "filled": true, "color": "black", "opacity": 1}}
    ]},
    {"data": {"name": "r4"}, "layer": [
      {"mark": {"type": "line", "color": "black", "strokeWidth": 1}, "encoding": {"order": {"value": null}}},
      {"mark": {"type": "point", "shape": "triangle-up", "size": 75, "filled": true, "color": "black", "opacity": 1}}
    ]},
    {"data": {"name": "legB"}, "mark": {"type": "point", "filled": true, "color": "black", "opacity": 0},
     "encoding": {"shape": {"field": "k", "type": "nominal",
       "scale": {"domain": ["Copper res. sensor 1", "Copper res. sensor 2", "Silver res. sensor 3", "Silver res. sensor 4"],
                 "range": ["M-1,-0.06H2.88V0.06H-1ZM0.53,0A0.41,0.41 0 1,1 1.35,0A0.41,0.41 0 1,1 0.53,0Z",
                           "M-1,-0.06H0.55V0.06H-1ZM1.33,-0.06H2.88V0.06H1.33ZM0.49,0A0.45,0.45 0 1,1 1.39,0A0.45,0.45 0 1,1 0.49,0ZM0.63,0A0.31,0.31 0 1,0 1.25,0A0.31,0.31 0 1,0 0.63,0Z",
                           "M-1,-0.06H0.73V0.06H-1ZM1.15,-0.06H2.88V0.06H1.15ZM0.94,-0.5L1.44,0.38L0.44,0.38ZM0.94,-0.26L0.64,0.26L1.24,0.26Z",
                           "M-1,-0.06H2.88V0.06H-1ZM0.94,-0.55L1.49,0.42L0.39,0.42Z"]},
       "legend": {"title": null, "orient": "none", "legendX": 7, "legendY": 224, "columns": 2, "direction": "horizontal", "symbolSize": 289, "symbolStrokeWidth": 0, "symbolOpacity": 1, "symbolFillColor": "black", "labelFontSize": 16.5, "labelColor": "#222", "labelOffset": 21, "labelLimit": 400, "rowPadding": 7, "columnPadding": 16, "padding": 7.5, "strokeColor": "black", "fillColor": "white"}}}}
  ]
}
]
}
